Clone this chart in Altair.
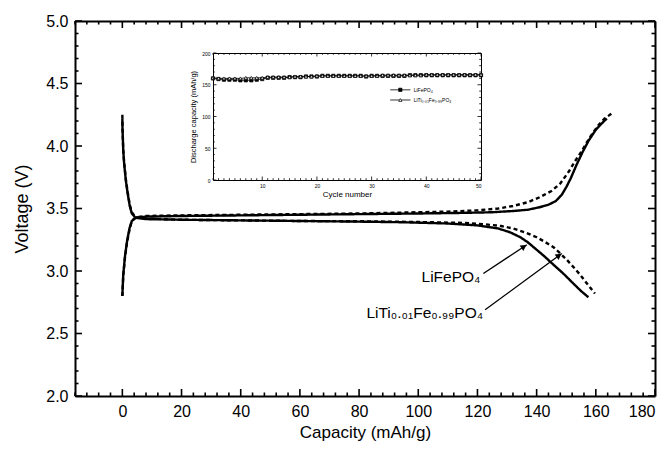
import math
import altair as alt
import pandas as pd

FONT = "Liberation Sans"

# ---------------- main chart data (capacity mAh/g, voltage V) ----------------
lfp_charge_cap = [0, 0.3, 0.9, 1.6, 2.4, 3.2, 4.5, 8, 20, 40, 60, 80, 100, 115, 125, 132, 137, 141,
                  144, 146.5, 148.5, 150, 151.5, 153.5, 155.5, 157.5, 160, 162, 163.7]
lfp_charge_v = [2.80, 2.97, 3.12, 3.24, 3.34, 3.40, 3.425, 3.435, 3.44, 3.445, 3.45, 3.455, 3.46, 3.465,
                3.47, 3.48, 3.49, 3.51, 3.53, 3.56, 3.61, 3.67, 3.74, 3.85, 3.95, 4.04, 4.13, 4.18, 4.22]

lfp_dis_cap = [0, 0.05, 0.3, 0.6, 1.2, 1.8, 2.5, 3.2, 4.5, 8, 20, 40, 60, 80, 95, 110, 120, 127, 131,
               134.5, 137, 139.5, 142.5, 145.7, 149, 152.4, 155, 157.5]
lfp_dis_v = [4.22, 4.14, 3.97, 3.86, 3.72, 3.62, 3.52, 3.46, 3.425, 3.415, 3.41, 3.405, 3.40, 3.395,
             3.39, 3.38, 3.365, 3.34, 3.31, 3.27, 3.23, 3.18, 3.12, 3.05, 2.98, 2.90, 2.84, 2.79]

lti_charge_cap = [0, 0.3, 0.9, 1.6, 2.4, 3.2, 4.5, 8, 20, 40, 60, 80, 100, 110, 120, 127, 132, 137,
                  141, 145, 148, 151, 153, 155, 158, 161, 163, 165.4]
lti_charge_v = [2.80, 2.96, 3.11, 3.23, 3.33, 3.40, 3.43, 3.44, 3.445, 3.45, 3.455, 3.46, 3.47, 3.475,
                3.485, 3.50, 3.52, 3.55, 3.59, 3.64, 3.70, 3.80, 3.88, 3.95, 4.07, 4.17, 4.22, 4.26]

lti_dis_cap = [0, 0.05, 0.3, 0.6, 1.2, 1.8, 2.5, 3.2, 4.5, 8, 20, 40, 60, 80, 100, 115, 122, 128, 132,
               136, 140, 143, 145.7, 148, 150.2, 152.5, 154.7, 157, 159.7]
lti_dis_v = [4.25, 4.15, 3.97, 3.87, 3.73, 3.63, 3.53, 3.47, 3.43, 3.42, 3.41, 3.405, 3.40, 3.398,
             3.392, 3.385, 3.375, 3.36, 3.34, 3.31, 3.27, 3.23, 3.19, 3.14, 3.09, 3.03, 2.97, 2.90, 2.82]

x_major = list(range(0, 181, 20))
x_minor = list(range(-16, 181, 4))
y_major = [2.0, 2.5, 3.0, 3.5, 4.0, 4.5, 5.0]
y_minor = [round(2 + 0.1 * i, 1) for i in range(31)]

# annotations (data coordinates)
label_text = ["LiFePO\u2084", "LiTi\u2080.\u2080\u2081Fe\u2080.\u2089\u2089PO\u2084"]
label_cap = [121.0, 121.9]
label_v = [2.914, 2.624]
arrow_cap1 = [122.0, 122.6]
arrow_v1 = [2.98, 2.69]
arrow_cap2 = [136.7, 148.5]
arrow_v2 = [3.21, 3.14]

# ---------------- inset data ----------------
cycles = list(range(1, 51))
lfp_cycle_cap = [160, 159, 158, 158, 158, 157, 157, 157, 158, 159,
                 161, 161, 161, 161, 162, 162, 162, 163, 163, 163,
                 164, 164, 164, 164, 164, 164, 164, 164, 163, 164,
                 164, 164, 164, 164, 164, 164, 165, 165, 165, 165,
                 165, 165, 165, 165, 165, 165, 165, 165, 165, 165]
lti_cycle_cap = [161, 160, 160, 160, 160, 160, 161, 161, 161, 161,
                 162, 162, 162, 162, 162, 163, 163, 163, 163, 164,
                 164, 164, 164, 164, 164, 164, 164, 164, 164, 164,
                 164, 165, 165, 165, 165, 165, 165, 165, 165, 166,
                 166, 166, 166, 166, 166, 166, 166, 166, 166, 166]
inset_x_major = [10, 20, 30, 40, 50]
inset_x_minor = list(range(1, 51))
inset_y_major = [0, 50, 100, 150, 200]
inset_y_minor = list(range(0, 201, 10))

legend_names = ["LiFePO\u2084", "LiTi\u2080.\u2080\u2081Fe\u2080.\u2089\u2089PO\u2084"]
legend_x1 = [33.4, 33.4]
legend_x2 = [37.1, 37.1]
legend_xtext = [37.7, 37.7]
legend_y = [142, 126]

# ---------------- geometry ----------------
W, H = 580, 375
X_DOM = [-16, 180]
Y_DOM = [2, 5]
INSET_X = [138, 406]
INSET_Y = [159, 32]
IX_DOM = [1, 50]
IY_DOM = [0, 200]

px_c = W / (X_DOM[1] - X_DOM[0])
px_v = H / (Y_DOM[1] - Y_DOM[0])
ipx_x = (INSET_X[1] - INSET_X[0]) / (IX_DOM[1] - IX_DOM[0])
ipx_y = (INSET_Y[0] - INSET_Y[1]) / (IY_DOM[1] - IY_DOM[0])

# ---------------- build tables ----------------
rows = []
for sample, curve, caps, vs in [
    ("LiFePO4", "lfp_c", lfp_charge_cap, lfp_charge_v),
    ("LiFePO4", "lfp_d", lfp_dis_cap, lfp_dis_v),
    ("LiTi", "lti_c", lti_charge_cap, lti_charge_v),
    ("LiTi", "lti_d", lti_dis_cap, lti_dis_v),
]:
    for i, (c, v) in enumerate(zip(caps, vs)):
        rows.append({"cap": c, "V": v, "sample": sample, "curve": curve, "idx": i})
curves = pd.DataFrame(rows)

labels_df = pd.DataFrame({"cap": label_cap, "V": label_v, "text": label_text})

heads = []
for c1, v1, c2, v2 in zip(arrow_cap1, arrow_v1, arrow_cap2, arrow_v2):
    dx = (c2 - c1) * px_c
    dy = (v2 - v1) * px_v
    L = math.hypot(dx, dy)
    ang = math.degrees(math.atan2(dx, dy)) % 360
    back = 3.5
    hc = c2 - dx / L * back / px_c
    hv = v2 - dy / L * back / px_v
    heads.append({"cap": hc, "V": hv, "angle": ang})
heads_df = pd.DataFrame(heads)


def edge_ticks(xminor, xmajor, yminor, ymajor, xdom, ydom, pxx, pxy, big, small, w):
    """Inward tick segments on all four edges, in data units."""
    out = []
    for v in xminor:
        L = (big if v in xmajor else small) / pxy
        out.append({"a": v, "b": ydom[0], "a2": v, "b2": ydom[0] + L, "w": w})
        out.append({"a": v, "b": ydom[1], "a2": v, "b2": ydom[1] - L, "w": w})
    for v in yminor:
        L = (big if v in ymajor else small) / pxx
        out.append({"a": xdom[0], "b": v, "a2": xdom[0] + L, "b2": v, "w": w})
        out.append({"a": xdom[1], "b": v, "a2": xdom[1] - L, "b2": v, "w": w})
    return out

# main rules: arrows + inward ticks
main_rules = [{"a": c1, "b": v1, "a2": c2, "b2": v2, "w": 1.3}
              for c1, v1, c2, v2 in zip(arrow_cap1, arrow_v1, arrow_cap2, arrow_v2)]
main_rules += edge_ticks(x_minor, x_major, y_minor, y_major, X_DOM, Y_DOM, px_c, px_v, 7, 3.5, 1.6)
main_rules_df = pd.DataFrame(main_rules)

inset_rows = []
for name, vals in [("LiFePO4", lfp_cycle_cap), ("LiTi", lti_cycle_cap)]:
    for cy, v in zip(cycles, vals):
        inset_rows.append({"cycle": cy, "cap": v, "sample": name})
inset_df = pd.DataFrame(inset_rows)

leg_df = pd.DataFrame({"x1": legend_x1, "x2": legend_x2, "xt": legend_xtext, "y": legend_y,
                       "name": legend_names, "sample": ["LiFePO4", "LiTi"]})
leg_df["xm"] = (leg_df["x1"] + leg_df["x2"]) / 2

inset_rules = [{"a": a, "b": y, "a2": a2, "b2": y, "w": 0.8}
               for a, a2, y in zip(legend_x1, legend_x2, legend_y)]
inset_rules += edge_ticks(inset_x_minor, inset_x_major, inset_y_minor, inset_y_major,
                          IX_DOM, IY_DOM, ipx_x, ipx_y, 3.5, 1.8, 0.8)
inset_rules_df = pd.DataFrame(inset_rules)

# ---------------- scales ----------------
def sx():
    return alt.Scale(domain=X_DOM, nice=False, zero=False)

def sy():
    return alt.Scale(domain=Y_DOM, nice=False, zero=False)

def isx():
    return alt.Scale(domain=IX_DOM, range=INSET_X, nice=False, zero=False)

def isy():
    return alt.Scale(domain=IY_DOM, range=INSET_Y, nice=False, zero=False)

shape_scale = lambda: alt.Scale(domain=["LiFePO4", "LiTi"], range=["square", "triangle-up"])
fill_scale = lambda: alt.Scale(domain=["LiFePO4", "LiTi"], range=["black", "white"])

AX = dict(labelFont=FONT, titleFont=FONT, labelColor="black", titleColor="black",
          domainColor="black", titleFontWeight="normal", grid=False)


def frame_axis(orient, values, offset=0, width=2):
    return alt.Axis(orient=orient, offset=offset, values=values, labels=False, ticks=False,
                    title=None, domain=True, domainWidth=width, **AX)

# ---------------- main layers ----------------
main_lines = alt.Chart(curves).mark_line(strokeWidth=2.4, color="black").encode(
    x=alt.X("cap:Q", scale=sx(), axis=alt.Axis(orient="bottom", values=x_major,
            title="Capacity (mAh/g)", ticks=False, domain=True, domainWidth=2, labelPadding=7,
            labelFontSize=16, titleFontSize=17, titlePadding=5, **AX)),
    y=alt.Y("V:Q", scale=sy(), axis=alt.Axis(orient="left", values=y_major, format=".1f",
            title="Voltage (V)", ticks=False, domain=True, domainWidth=2, labelPadding=7,
            labelFontSize=16, titleFontSize=18, titlePadding=14, **AX)),
    strokeDash=alt.StrokeDash("sample:N", scale=alt.Scale(domain=["LiFePO4", "LiTi"],
                              range=[[1, 0], [4, 3]]), legend=None),
    detail="curve:N",
    order="idx:Q",
)

# top and right frame lines from this layer's axes
main_labels = alt.Chart(labels_df).mark_text(align="right", baseline="alphabetic", fontSize=15.5,
                                              font=FONT, color="black").encode(
    x=alt.X("cap:Q", scale=sx(), axis=frame_axis("top", x_major)),
    y=alt.Y("V:Q", scale=sy(), axis=frame_axis("right", y_major)),
    text="text:N",
)

main_rule_layer = alt.Chart(main_rules_df).mark_rule(color="black").encode(
    x=alt.X("a:Q", scale=sx(), axis=None),
    y=alt.Y("b:Q", scale=sy(), axis=None),
    x2="a2:Q",
    y2="b2:Q",
    strokeWidth=alt.StrokeWidth("w:Q", scale=None),
)

main_heads = alt.Chart(heads_df).mark_point(shape="triangle-up", filled=True, size=45,
                                            color="black", opacity=1).encode(
    x=alt.X("cap:Q", scale=sx(), axis=None),
    y=alt.Y("V:Q", scale=sy(), axis=None),
    angle=alt.Angle("angle:Q", scale=None),
)

# ---------------- inset layers ----------------
inset_lines = alt.Chart(inset_df).mark_line(strokeWidth=0.8, color="black").encode(
    x=alt.X("cycle:Q", scale=isx(), axis=alt.Axis(orient="bottom", offset=-(H - INSET_Y[0]),
            values=inset_x_major, title="Cycle number", ticks=False, domain=True, domainWidth=1,
            labelFontSize=5, labelPadding=3, titleFontSize=8, titlePadding=2, **AX)),
    y=alt.Y("cap:Q", scale=isy(), axis=alt.Axis(orient="left", offset=-INSET_X[0],
            values=inset_y_major, title="Discharge capacity (mAh/g)", ticks=False, domain=True,
            domainWidth=1, labelFontSize=5, labelPadding=3, titleFontSize=7.5, titlePadding=4,
            **AX)),
    detail="sample:N",
)

inset_points = alt.Chart(inset_df).mark_point(strokeWidth=0.7, opacity=1).encode(
    x=alt.X("cycle:Q", scale=isx(), axis=None),
    y=alt.Y("cap:Q", scale=isy(), axis=None),
    shape=alt.Shape("sample:N", scale=shape_scale(), legend=None),
    fill=alt.Fill("sample:N", scale=fill_scale(), legend=None),
    stroke=alt.value("black"),
    size=alt.value(11),
)

inset_rule_layer = alt.Chart(inset_rules_df).mark_rule(color="black").encode(
    x=alt.X("a:Q", scale=isx(), axis=frame_axis("bottom", inset_x_major, -(H - INSET_Y[1]), 1)),
    y=alt.Y("b:Q", scale=isy(), axis=frame_axis("left", inset_y_major, -INSET_X[1], 1)),
    x2="a2:Q",
    y2="b2:Q",
    strokeWidth=alt.StrokeWidth("w:Q", scale=None),
)

legend_points = alt.Chart(leg_df).mark_point(strokeWidth=0.7, opacity=1).encode(
    x=alt.X("xm:Q", scale=isx(), axis=None),
    y=alt.Y("y:Q", scale=isy(), axis=None),
    shape=alt.Shape("sample:N", scale=shape_scale(), legend=None),
    fill=alt.Fill("sample:N", scale=fill_scale(), legend=None),
    stroke=alt.value("black"),
    size=alt.value(11),
)

legend_text = alt.Chart(leg_df).mark_text(align="left", baseline="middle", fontSize=5, font=FONT,
                                          color="black").encode(
    x=alt.X("xt:Q", scale=isx(), axis=None),
    y=alt.Y("y:Q", scale=isy(), axis=None),
    text="name:N",
)

chart = alt.layer(
    main_lines, main_labels, main_rule_layer, main_heads,
    inset_lines, inset_points, inset_rule_layer, legend_points, legend_text,
).resolve_scale(
    x="independent", y="independent", strokeDash="independent", shape="independent",
    fill="independent", strokeWidth="independent",
).resolve_axis(
    x="independent", y="independent",
).properties(
    width=W, height=H,
    autosize=alt.AutoSizeParams(type="none"),
    padding={"left": 67, "top": 13, "right": 8, "bottom": 48},
).configure_view(
    strokeWidth=0,
)

chart.save("out.html", embed_options={"renderer": "svg", "actions": False})
